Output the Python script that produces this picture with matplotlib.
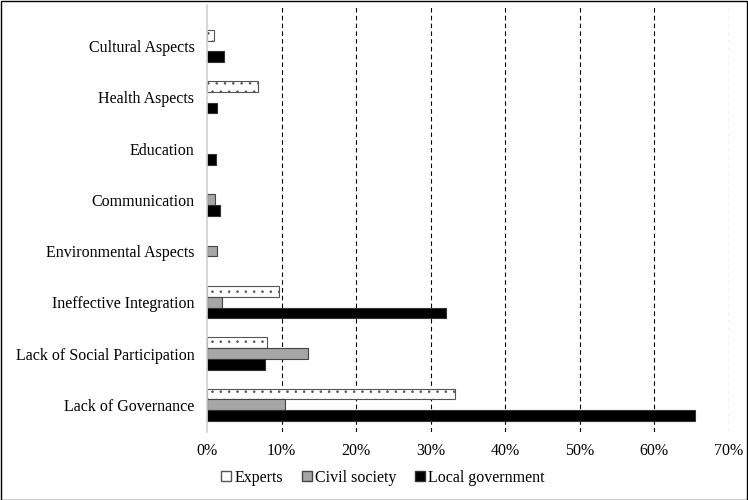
import matplotlib.pyplot as plt
from matplotlib.patches import Patch, Rectangle
import numpy as np

plt.rcParams['font.family'] = ['Liberation Serif', 'DejaVu Serif']
plt.rcParams['hatch.linewidth'] = 0.6
plt.rcParams['hatch.color'] = '#555555'

categories = ['Lack of Governance', 'Lack of Social Participation', 'Ineffective Integration',
              'Environmental Aspects', 'Communication', 'Education', 'Health Aspects',
              'Cultural Aspects']
experts = [33.2, 8.1, 9.7, 0, 0, 0, 6.8, 1.0]
civil = [10.4, 13.5, 2.0, 1.3, 1.1, 0, 0, 0]
local = [65.5, 7.8, 32.1, 0, 1.7, 1.2, 1.3, 2.3]
ticks = [0, 10, 20, 30, 40, 50, 60, 70]

fig = plt.figure(figsize=(7.48, 5.0), dpi=100)
ax = fig.add_axes([207 / 748, 1 - 432 / 500, (729 - 207) / 748, (432 - 5) / 500])

y = np.arange(len(categories))
h = 0.21


def draw(vals, offset, **kw):
    vals = np.array(vals)
    m = vals > 0
    ax.barh(y[m] + offset, vals[m], height=h, **kw)


draw(experts, h, color='white', edgecolor='#555555', linewidth=0.8, hatch='..')
draw(civil, 0, color='#a6a6a6', edgecolor='#444444', linewidth=0.8)
draw(local, -h, color='black', edgecolor='#333333', linewidth=0.8)

ax.set_xlim(0, 70)
ax.set_ylim(-0.53, 7.8)
ax.set_xticks(ticks)
ax.set_xticklabels([f'{t}%' for t in ticks], fontsize=11.5)
ax.set_yticks(y)
ax.set_yticklabels(categories, fontsize=11.5)
ax.tick_params(length=0)
ax.tick_params(axis='y', pad=9)
ax.tick_params(axis='x', pad=8)

for t in ticks[1:]:
    ax.axvline(t, color='black', linestyle=(0, (4, 3)), linewidth=0.8, zorder=0)

for s in ['top', 'right', 'bottom']:
    ax.spines[s].set_visible(False)
ax.spines['left'].set_color('#d0d0d0')
ax.spines['left'].set_linewidth(1.2)

handles = [Patch(facecolor='white', edgecolor='#555555', label='Experts'),
           Patch(facecolor='#a6a6a6', edgecolor='#444444', label='Civil society'),
           Patch(facecolor='black', edgecolor='#333333', label='Local government')]
fig.legend(handles=handles, loc='center', bbox_to_anchor=(0.512, 0.044), ncol=3,
           frameon=False, fontsize=11.5, handlelength=0.6, handleheight=0.6,
           handletextpad=0.2, columnspacing=1.2)

fig.patches.append(Rectangle((0.001, 0.001), 0.997, 0.997, transform=fig.transFigure,
                             fill=False, edgecolor='black', linewidth=1.0))

fig.savefig('out.png', dpi=100)
